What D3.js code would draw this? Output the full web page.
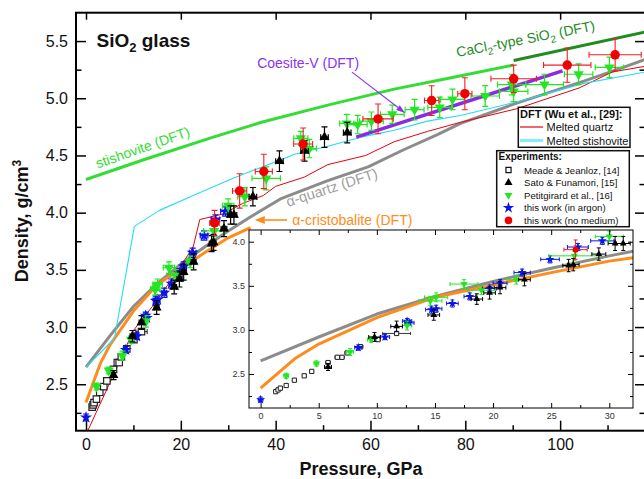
<!DOCTYPE html>
<html><head><meta charset="utf-8">
<script src="https://cdn.jsdelivr.net/npm/d3@7"></script>
<style>body{margin:0;background:#fff}svg{display:block;font-family:"Liberation Sans",Arial,Helvetica,sans-serif}</style>
</head><body><svg id="c" width="644" height="479"></svg>
<script>
// ---------- DATA: [pressure GPa, density g/cm3, errP, errD] ----------
const meade = [[1.3,2.30,0.1,0.02],[1.5,2.32,0.1,0.02],[1.7,2.34,0.1,0.02],[2.2,2.37,0.1,0.02],[2.9,2.43,0.15,0.02],[3.75,2.48,0.15,0.02],[4.4,2.53,0.15,0.02],[5.8,2.63,0.2,0.02],[6.6,2.69,0.2,0.02],[7.0,2.69,0.2,0.02],[7.45,2.74,0.2,0.02],[8.6,2.81,0.2,0.02],[10.1,2.89,0.2,0.02],[11.7,2.96,1.2,0.02]];
const sato = [[5.8,2.58,0.3,0.04],[9.8,2.92,0.5,0.05],[11.7,3.04,0.5,0.06],[14.9,3.17,0.5,0.06],[18.6,3.35,0.5,0.06],[19.7,3.42,0.5,0.07],[20.6,3.48,0.5,0.07],[22.7,3.57,0.5,0.07],[26.5,3.73,0.5,0.07],[26.9,3.74,0.5,0.07],[29.1,3.86,0.6,0.07],[30.5,3.98,0.6,0.08],[31.2,3.98,0.6,0.08],[35.2,4.14,0.8,0.08],[40.8,4.45,0.8,0.09],[46.1,4.54,0.8,0.09],[50.3,4.66,0.8,0.09],[55.1,4.70,0.8,0.09]];
const petit = [[2.2,2.48,0.2,0.03],[4.8,2.62,0.2,0.03],[7.7,2.75,0.3,0.04],[9.5,2.89,0.3,0.03],[12.6,3.05,0.4,0.05],[14.6,3.33,1.0,0.05],[15.1,3.37,1.0,0.05],[17.5,3.52,1.2,0.05],[19.0,3.45,1.2,0.05],[22.0,3.57,0.8,0.05],[27.0,3.84,2.2,0.05],[30.0,4.06,1.2,0.06],[33.5,4.14,1.5,0.08],[38.0,4.30,3.0,0.10],[45.3,4.65,1.5,0.06],[47.1,4.56,1.5,0.08],[55.0,4.78,1.5,0.08],[57.3,4.77,2.0,0.08],[60.2,4.80,2.5,0.08],[64.6,4.86,2.5,0.08],[69.3,4.90,2.0,0.09],[74.6,4.92,2.5,0.09],[77.3,4.99,2.5,0.09],[84.2,5.02,3.0,0.09],[89.8,5.12,3.0,0.09],[90.2,5.06,3.0,0.09],[96.7,5.12,4.0,0.09],[103.9,5.21,3.0,0.09],[110.4,5.27,3.0,0.09]];
const argon = [[0,2.21,0.2,0.03],[8.4,2.80,0.3,0.03],[10.7,2.92,0.4,0.03],[12.6,3.10,0.4,0.03],[12.8,3.08,0.4,0.03],[14.7,3.23,0.5,0.04],[15.1,3.24,0.5,0.04],[16.5,3.30,0.5,0.04],[18.0,3.38,0.5,0.04],[19.7,3.47,0.6,0.04],[20.6,3.53,0.6,0.04],[22.5,3.65,0.7,0.04],[24.9,3.80,0.8,0.04],[27.3,3.94,0.9,0.04],[29.4,4.01,1.0,0.04]];
const noMedium = [[27.1,3.91,1.0,0.11],[32.4,4.19,1.5,0.15],[37.5,4.36,1.8,0.15],[45.8,4.60,2.0,0.14],[61.6,4.82,3.2,0.13],[72.9,4.98,1.5,0.13],[79.9,5.04,1.5,0.14],[90.2,5.17,4.8,0.12],[101.5,5.29,5.0,0.15],[111.6,5.38,5.5,0.14]];

// DFT curves
const stishP = [0,12,26,37,51,65,77,90.2];
const stishD = [4.29,4.46,4.65,4.79,4.94,5.08,5.18,5.29];
const cacl2P = [90.2,118];
const cacl2D = [5.33,5.58];
const coesP = [57,100.5];
const coesD = [4.66,5.24];
const quartzP = [0,5,10,15,20,25,30,35,41,51,59.5,67,74,79,91,105,112,118];
const quartzD = [2.65,2.92,3.18,3.38,3.55,3.70,3.84,3.97,4.12,4.28,4.40,4.55,4.68,4.78,4.96,5.15,5.25,5.34];
const cristP = [0,3,5,10,15,20,25,30,34.7];
const cristD = [2.34,2.68,2.84,3.14,3.37,3.51,3.65,3.78,3.87];
const meltQP = [0,5,10,14,19,22.6,24,29,33,37.4,40,46,51,59,65,72,79,91,104,111,118];
const meltQD = [2.06,2.51,2.97,3.18,3.47,3.70,3.94,3.99,4.08,4.15,4.23,4.31,4.42,4.50,4.62,4.71,4.79,4.91,5.09,5.23,5.28];
const meltSP = [0,6,10.2,15.5,22.6,30.4,35.3,40.3,44,51,58,65,72,79,91,105,118];
const meltSD = [2.65,2.90,3.88,4.02,4.15,4.29,4.37,4.45,4.51,4.58,4.66,4.72,4.80,4.85,4.97,5.13,5.23];

// ticks
const xMajor = [0,20,40,60,80,100];
const xMinor = [10,30,50,70,90,110];
const yMajor = [2.5,3.0,3.5,4.0,4.5,5.0,5.5];
const yMinor = [2.25,2.75,3.25,3.75,4.25,4.75,5.25,5.75];
const inXMajor = [0,5,10,15,20,25,30];
const inXMinor = [2.5,7.5,12.5,17.5,22.5,27.5];
const inYMajor = [2.5,3.0,3.5,4.0];
const inYMinor = [2.25,2.75,3.25,3.75];

const C = {petit:"#22e622", stish:"#33dd33", cacl2:"#1f8c1f", coes:"#8a2be2", quartz:"#8c8c8c", crist:"#ff8c1a", meltQ:"#e8000b", meltS:"#22ddf0", blue:"#0a14e6", red:"#f00000"};

const svg = d3.select("#c");
const L=76, R=645, T=12.7, B=430.7;
const x = d3.scaleLinear().domain([-2.11,117.9]).range([L,R]);
const y = d3.scaleLinear().domain([2.094,5.748]).range([B,T]);

const defs = svg.append("defs");
defs.append("clipPath").attr("id","mainclip").append("rect").attr("x",L).attr("y",T).attr("width",R-L).attr("height",B-T);

const zip = (a,b)=>a.map((v,i)=>[v,b[i]]);

function drawLines(g, xs, ys, specs){
  specs.forEach(s=>{
    g.append("path").datum(zip(s.p,s.d))
      .attr("fill","none").attr("stroke",s.c).attr("stroke-width",s.w)
      .attr("stroke-linejoin","round")
      .attr("d", d3.line().x(d=>xs(d[0])).y(d=>ys(d[1])));
  });
}

function drawSeries(g, data, xs, ys, o){
  const eg = g.append("g").attr("stroke",o.ec).attr("stroke-width",o.ew).attr("fill","none");
  data.forEach(([p,d,ep,ed])=>{
    const cx=xs(p), cy=ys(d);
    if(ep>0){
      const a=xs(p-ep), b=xs(p+ep);
      eg.append("line").attr("x1",a).attr("x2",b).attr("y1",cy).attr("y2",cy);
      eg.append("line").attr("x1",a).attr("x2",a).attr("y1",cy-o.cap).attr("y2",cy+o.cap);
      eg.append("line").attr("x1",b).attr("x2",b).attr("y1",cy-o.cap).attr("y2",cy+o.cap);
    }
    if(ed>0){
      const a=ys(d-ed), b=ys(d+ed);
      eg.append("line").attr("x1",cx).attr("x2",cx).attr("y1",a).attr("y2",b);
      eg.append("line").attr("x1",cx-o.cap).attr("x2",cx+o.cap).attr("y1",a).attr("y2",a);
      eg.append("line").attr("x1",cx-o.cap).attr("x2",cx+o.cap).attr("y1",b).attr("y2",b);
    }
  });
  g.append("g").selectAll("path").data(data).join("path")
    .attr("d", d3.symbol(o.type, o.size))
    .attr("transform", d=>`translate(${xs(d[0])},${ys(d[1])}) rotate(${o.rot||0})`)
    .attr("fill", o.fill).attr("stroke", o.stroke||"none").attr("stroke-width", o.sw||0);
}

// ---------- MAIN PLOT ----------
const mg = svg.append("g").attr("clip-path","url(#mainclip)");
drawLines(mg, x, y, [
  {p:stishP,d:stishD,c:C.stish,w:3},
  {p:cacl2P,d:cacl2D,c:C.cacl2,w:3},
  {p:quartzP,d:quartzD,c:C.quartz,w:3},
  {p:cristP,d:cristD,c:C.crist,w:3},
  {p:meltQP,d:meltQD,c:C.meltQ,w:1},
  {p:meltSP,d:meltSD,c:C.meltS,w:1.1},
  {p:coesP,d:coesD,c:C.coes,w:3.5}
]);
const MS = {
  meade:{type:d3.symbolSquare,size:42,fill:"#fff",stroke:"#222",sw:1.2,ec:"#222",ew:1,cap:2.5},
  argon:{type:d3.symbolStar,size:45,fill:C.blue,ec:C.blue,ew:1.2,cap:3},
  petit:{type:d3.symbolTriangle,size:45,rot:180,fill:C.petit,ec:C.petit,ew:1.2,cap:3},
  sato:{type:d3.symbolTriangle,size:42,fill:"#000",ec:"#000",ew:1.2,cap:3},
  red:{type:d3.symbolCircle,size:70,fill:C.red,ec:"#f02020",ew:1.1,cap:3}
};
drawSeries(mg, meade, x, y, MS.meade);
drawSeries(mg, argon, x, y, MS.argon);
drawSeries(mg, petit, x, y, MS.petit);
drawSeries(mg, sato, x, y, MS.sato);
drawSeries(mg, noMedium, x, y, MS.red);

// axes
function tickAxes(g, xs, ys, l, r, t, b, xmaj, xmin, ymaj, ymin, o){
  const ax = (gen, tr, vals, size, labels, pad)=>{
    const a = g.append("g").attr("transform",tr)
      .call(gen.tickValues(vals).tickSize(-size).tickPadding(pad).tickFormat(labels?labels:()=> ""));
    a.select(".domain").remove();
    a.selectAll("line").attr("stroke","#000").attr("stroke-width",o.tw);
    a.selectAll("text").attr("font-size",o.fs).attr("fill",o.tc).attr("font-family",'"Liberation Sans",Arial,sans-serif');
    return a;
  };
  ax(d3.axisBottom(xs), `translate(0,${b})`, xmaj, o.maj, d3.format("d"), o.xpad);
  ax(d3.axisBottom(xs), `translate(0,${b})`, xmin, o.min, null, 3);
  ax(d3.axisLeft(ys), `translate(${l},0)`, ymaj, o.maj, d3.format(".1f"), o.ypad);
  ax(d3.axisLeft(ys), `translate(${l},0)`, ymin, o.min, null, 3);
  ax(d3.axisTop(xs), `translate(0,${t})`, xmaj, o.topmaj, null, 3);
  if(o.topMinor) ax(d3.axisTop(xs), `translate(0,${t})`, xmin, o.min, null, 3);
  ax(d3.axisRight(ys), `translate(${r},0)`, ymaj, o.maj, null, 3);
  ax(d3.axisRight(ys), `translate(${r},0)`, ymin, o.min, null, 3);
  g.append("rect").attr("x",l).attr("y",t).attr("width",r-l).attr("height",b-t)
    .attr("fill","none").attr("stroke","#000").attr("stroke-width",o.fw);
}
const axg = svg.append("g");
tickAxes(axg, x, y, L, R, T, B, xMajor, xMinor, yMajor, yMinor.filter(v=>v<5.748),
  {tw:1.5, fs:16, tc:"#111", maj:10, min:5.5, topmaj:7, xpad:8, ypad:8, fw:2, topMinor:false});

// ---------- annotations (data coordinates) ----------
const ann = svg.append("g");
function rotText(p,d,ang,txt,col,fs){
  return ann.append("text").attr("transform",`translate(${x(p)},${y(d)}) rotate(${ang})`)
    .attr("fill",col).attr("font-size",fs).text(txt);
}
rotText(2.5,4.385,-19.5,"stishovite (DFT)",C.stish,14);
{
  const fs=14;
  const t = ann.append("text").attr("transform",`translate(${x(78.3)},${y(5.36)}) rotate(-11)`).attr("fill",C.cacl2).attr("font-size",fs);
  t.append("tspan").text("CaCl");
  t.append("tspan").text("2").attr("font-size",10).attr("dy",4);
  t.append("tspan").text("-type SiO").attr("dy",-4);
  t.append("tspan").text("2").attr("font-size",10).attr("dy",4);
  t.append("tspan").text(" (DFT)").attr("dy",-4);
}
rotText(36.1,5.262,0,"Coesite-V (DFT)","#8a33ee",14);
function arrow(p1,d1,p2,d2,col,w,hl,hw){
  const x1=x(p1),y1=y(d1),x2=x(p2),y2=y(d2);
  const ang=Math.atan2(y2-y1,x2-x1);
  const bx=x2-hl*Math.cos(ang), by=y2-hl*Math.sin(ang);
  ann.append("line").attr("x1",x1).attr("y1",y1).attr("x2",bx).attr("y2",by).attr("stroke",col).attr("stroke-width",w);
  const px=-Math.sin(ang)*hw/2, py=Math.cos(ang)*hw/2;
  ann.append("path").attr("d",`M${x2},${y2}L${bx+px},${by+py}L${bx-px},${by-py}Z`).attr("fill",col);
}
arrow(56.1,5.229,67.3,4.871,"#8a33ee",1.1,9,6);
rotText(42.6,4.05,-18,"α-quartz (DFT)","#a0a0a0",14.5);
rotText(43.5,3.892,0,"α-cristobalite (DFT)",C.crist,14);
arrow(42.4,3.936,35.6,3.936,C.crist,1.6,10,8);

// title
{
  const t = svg.append("text").attr("x",96.5).attr("y",46.5).attr("font-size",19).attr("font-weight","bold").attr("fill","#111");
  t.append("tspan").text("SiO");
  t.append("tspan").text("2").attr("font-size",13).attr("dy",5);
  t.append("tspan").text(" glass").attr("dy",-5);
}
svg.append("text").attr("x",361).attr("y",475).attr("text-anchor","middle").attr("font-size",18).attr("font-weight","bold").attr("fill","#111").text("Pressure, GPa");
{
  const t = svg.append("text").attr("transform","translate(28,221) rotate(-90)").attr("text-anchor","middle").attr("font-size",18).attr("font-weight","bold").attr("fill","#111");
  t.append("tspan").text("Density, g/cm");
  t.append("tspan").text("3").attr("font-size",12).attr("dy",-7);
}

// ---------- INSET ----------
const iL=249, iR=633, iT=230, iB=408;
const ix = d3.scaleLinear().domain([-1.0,32.04]).range([iL,iR]);
const iy = d3.scaleLinear().domain([2.115,4.133]).range([iB,iT]);
defs.append("clipPath").attr("id","inclip").append("rect").attr("x",iL).attr("y",iT).attr("width",iR-iL).attr("height",iB-iT);
svg.append("rect").attr("x",iL).attr("y",iT).attr("width",iR-iL).attr("height",iB-iT).attr("fill","#fff");
const ig = svg.append("g").attr("clip-path","url(#inclip)");
drawLines(ig, ix, iy, [
  {p:quartzP,d:quartzD,c:C.quartz,w:3},
  {p:cristP,d:cristD,c:C.crist,w:3}
]);
const inF = arr => arr.filter(d=>d[0]<=32.5);
drawSeries(ig, inF(meade), ix, iy, {type:d3.symbolSquare,size:18,fill:"#fff",stroke:"#222",sw:1,ec:"#222",ew:0.9,cap:1.5});
drawSeries(ig, inF(argon), ix, iy, {type:d3.symbolStar,size:26,fill:C.blue,ec:C.blue,ew:1,cap:2});
drawSeries(ig, inF(petit), ix, iy, {type:d3.symbolTriangle,size:22,rot:180,fill:C.petit,ec:C.petit,ew:1,cap:2});
drawSeries(ig, inF(sato), ix, iy, {type:d3.symbolTriangle,size:20,fill:"#000",ec:"#000",ew:1,cap:2});
drawSeries(ig, inF(noMedium), ix, iy, {type:d3.symbolCircle,size:28,fill:C.red,ec:"#f02020",ew:1,cap:2});
const iax = svg.append("g");
tickAxes(iax, ix, iy, iL, iR, iT, iB, inXMajor, inXMinor, inYMajor, inYMinor,
  {tw:1, fs:9, tc:"#333", maj:5, min:3, topmaj:5, xpad:5, ypad:4, fw:1, topMinor:true});

// ---------- LEGENDS ----------
const lg = svg.append("g");
lg.append("rect").attr("x",518.3).attr("y",107.3).attr("width",111.7).attr("height",40).attr("fill","#fff").attr("stroke","#111").attr("stroke-width",1.5);
lg.append("text").attr("x",520).attr("y",117.5).attr("font-size",11).attr("font-weight","bold").attr("fill","#111").text("DFT (Wu et al., [29]:");
const dftLeg = [["Melted quartz",C.meltQ,1.2,127],["Melted stishovite","#80f0ff",3,140.5]];
dftLeg.forEach(([t,c,w,yy])=>{
  lg.append("line").attr("x1",520).attr("x2",543).attr("y1",yy).attr("y2",yy).attr("stroke",c).attr("stroke-width",w);
  lg.append("text").attr("x",546.5).attr("y",yy+4).attr("font-size",11).attr("fill","#111").text(t);
});
lg.append("rect").attr("x",496.7).attr("y",150.7).attr("width",132.6).attr("height",76).attr("fill","#fff").attr("stroke","#111").attr("stroke-width",1.5);
lg.append("text").attr("x",498.5).attr("y",160).attr("font-size",10).attr("font-weight","bold").attr("fill","#111").text("Experiments:");
const expLeg = [
  ["Meade & Jeanloz, [14]", {type:d3.symbolSquare,size:26,fill:"#fff",stroke:"#111",sw:1.2}],
  ["Sato & Funamori, [15]", {type:d3.symbolTriangle,size:28,fill:"#000"}],
  ["Petitgirard et al., [16]", {type:d3.symbolTriangle,size:28,rot:180,fill:C.petit}],
  ["this work (in argon)", {type:d3.symbolStar,size:40,fill:C.blue}],
  ["this work (no medium)", {type:d3.symbolCircle,size:45,fill:C.red}]
];
expLeg.forEach(([t,o],i)=>{
  const yy = 170 + i*12.6;
  lg.append("path").attr("d",d3.symbol(o.type,o.size)).attr("transform",`translate(508.5,${yy}) rotate(${o.rot||0})`)
    .attr("fill",o.fill).attr("stroke",o.stroke||"none").attr("stroke-width",o.sw||0);
  lg.append("text").attr("x",524).attr("y",yy+3.5).attr("font-size",9.6).attr("fill","#111").text(t);
});
</script></body></html>
